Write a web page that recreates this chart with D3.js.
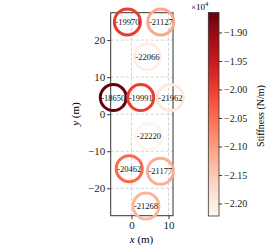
<!DOCTYPE html>
<html>
<head>
<meta charset="utf-8">
<script src="https://cdn.jsdelivr.net/npm/d3@7"></script>
<style>
  body { margin: 0; background: #fff; }
</style>
</head>
<body>
<svg id="chart" width="269" height="248" font-family="Liberation Serif, DejaVu Serif, serif"></svg>
<script>
// anchor positions (m) and stiffness (N/m)
var xPos = [-1.1, 7.9, 4.3, -4.9, 2.5, 10.5, 4.7, -0.6, 7.8, 3.9];
var yPos = [24.9, 24.9, 15.5, 4.5, 4.5, 4.5, -6.0, -14.7, -15.4, -24.8];
var stiffness = [-19970, -21127, -22066, -18650, -19991, -21962, -22220, -20462, -21177, -21268];

var xTicks = [0, 10];
var yTicks = [-20, -10, 0, 10, 20];
var cbTicks = [-19000, -19500, -20000, -20500, -21000, -21500, -22000];

var FONT = 'Liberation Serif, DejaVu Serif, serif';
var svg = d3.select('#chart');

var x = d3.scaleLinear().domain([-5.6, 11.2]).range([110.7, 173]);
var y = d3.scaleLinear().domain([-27.4, 27.4]).range([215.7, 12.7]);

var vmin = d3.min(stiffness), vmax = d3.max(stiffness);
var color = d3.scaleSequential(d3.interpolateReds).domain([vmin, vmax]);

var fmtMinus = function(s) { return s.replace('-', '\u2212'); };

/*
 * grid
 */
var grid = svg.append('g').attr('stroke', '#c8c8c8').attr('stroke-width', 0.8)
    .attr('stroke-dasharray', '3,2');
grid.selectAll('.gx').data(xTicks).enter().append('line')
    .attr('x1', d => x(d)).attr('x2', d => x(d))
    .attr('y1', y.range()[0]).attr('y2', y.range()[1]);
grid.selectAll('.gy').data(yTicks).enter().append('line')
    .attr('y1', d => y(d)).attr('y2', d => y(d))
    .attr('x1', x.range()[0]).attr('x2', x.range()[1]);

/*
 * axes
 */
var xAxis = svg.append('g')
    .attr('transform', 'translate(0,' + y.range()[0] + ')')
    .call(d3.axisBottom(x).tickValues(xTicks).tickSize(3.5).tickPadding(2).tickSizeOuter(0));
var yAxis = svg.append('g')
    .attr('transform', 'translate(' + x.range()[0] + ',0)')
    .call(d3.axisLeft(y).tickValues(yTicks).tickSize(3.5).tickPadding(2)
        .tickSizeOuter(0).tickFormat(d => fmtMinus(String(d))));
[xAxis, yAxis].forEach(function(a) {
    a.attr('font-family', FONT).attr('font-size', 11);
    a.select('.domain').remove();
    a.selectAll('line').attr('stroke', '#333');
    a.selectAll('text').attr('fill', '#222');
});

svg.append('rect')
    .attr('x', x.range()[0]).attr('y', y.range()[1])
    .attr('width', x.range()[1] - x.range()[0])
    .attr('height', y.range()[0] - y.range()[1])
    .attr('fill', 'none').attr('stroke', '#333').attr('stroke-width', 1);

/*
 * circles
 */
var pts = stiffness.map(function(s, i) { return {x: xPos[i], y: yPos[i], s: s}; });
var g = svg.append('g');
g.selectAll('circle').data(pts).enter().append('circle')
    .attr('cx', d => x(d.x)).attr('cy', d => y(d.y)).attr('r', 13)
    .attr('fill', 'none').attr('stroke', d => color(d.s)).attr('stroke-width', 3);
g.selectAll('text').data(pts).enter().append('text')
    .attr('x', d => x(d.x)).attr('y', d => y(d.y))
    .attr('text-anchor', 'middle').attr('dy', '0.35em')
    .attr('font-size', 8.5).attr('fill', '#111')
    .text(d => String(d.s));

/*
 * axis labels
 */
svg.append('text').attr('x', 141.5).attr('y', 243).attr('text-anchor', 'middle')
    .attr('font-size', 11).html('<tspan font-style="italic">x</tspan> (m)');
svg.append('text').attr('transform', 'translate(79,114) rotate(-90)')
    .attr('text-anchor', 'middle').attr('font-size', 11)
    .html('<tspan font-style="italic">y</tspan> (m)');

/*
 * colorbar
 */
var cb = d3.scaleLinear().domain([vmin, vmax]).range([216, 12.5]);
var cbX = 208.3, cbW = 10.7;
var grad = svg.append('defs').append('linearGradient')
    .attr('id', 'cbgrad').attr('x1', 0).attr('y1', 1).attr('x2', 0).attr('y2', 0);
d3.range(0, 1.0001, 0.05).forEach(function(t) {
    grad.append('stop').attr('offset', t).attr('stop-color', d3.interpolateReds(t));
});
svg.append('rect').attr('x', cbX).attr('y', cb.range()[1])
    .attr('width', cbW).attr('height', cb.range()[0] - cb.range()[1])
    .attr('fill', 'url(#cbgrad)').attr('stroke', '#333').attr('stroke-width', 0.8);

var cbAxis = svg.append('g')
    .attr('transform', 'translate(' + (cbX + cbW) + ',0)')
    .call(d3.axisRight(cb).tickValues(cbTicks).tickSize(3).tickPadding(2)
        .tickSizeOuter(0).tickFormat(d => fmtMinus((d / 1e4).toFixed(2))));
cbAxis.attr('font-family', FONT).attr('font-size', 10);
cbAxis.select('.domain').remove();
cbAxis.selectAll('line').attr('stroke', '#333');
cbAxis.selectAll('text').attr('fill', '#222');

svg.append('text').attr('x', 191).attr('y', 9.5).attr('font-size', 9)
    .html('\u00d710<tspan dy="-3.5" font-size="6.5">4</tspan>');

svg.append('text').attr('transform', 'translate(264,116) rotate(-90)')
    .attr('text-anchor', 'middle').attr('font-size', 10)
    .text('Stiffness (N/m)');
</script>
</body>
</html>
